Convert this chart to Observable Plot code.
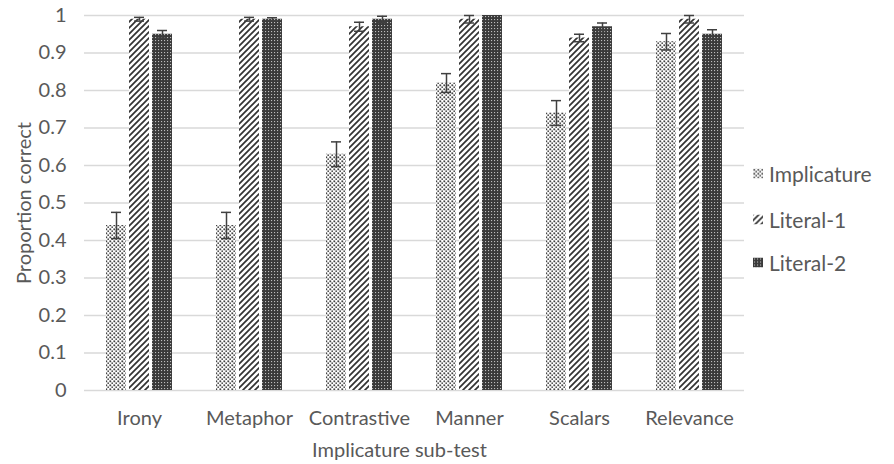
<!DOCTYPE html>
<html>
<head>
<meta charset="utf-8">
<script src="https://cdn.jsdelivr.net/npm/d3@7"></script>
<script src="https://cdn.jsdelivr.net/npm/@observablehq/plot@0.6"></script>
<style>
  html, body { margin: 0; padding: 0; background: #fff; }
  #wrap { position: relative; width: 894px; height: 464px; font-family: Lato, "Open Sans", sans-serif; color: #595959; }
  #legend { position: absolute; left: 753px; top: 0; font-size: 21px; }
  #legend .item { position: absolute; left: 0; display: flex; align-items: center; white-space: nowrap; transform: translateY(-50%); line-height: 1; }
  #legend svg { margin-right: 6px; }
</style>
</head>
<body>
<div id="wrap"></div>
<script>
const categories = ["Irony", "Metaphor", "Contrastive", "Manner", "Scalars", "Relevance"];
const seriesNames = ["Implicature", "Literal-1", "Literal-2"];
const implicature = [0.44, 0.44, 0.63, 0.82, 0.74, 0.93];
const implicatureErr = [0.035, 0.035, 0.033, 0.025, 0.033, 0.022];
const literal1 = [0.99, 0.99, 0.97, 0.99, 0.94, 0.99];
const literal1Err = [0.005, 0.005, 0.012, 0.01, 0.01, 0.01];
const literal2 = [0.95, 0.99, 0.99, 1.0, 0.97, 0.95];
const literal2Err = [0.01, 0.004, 0.008, 0.0, 0.01, 0.012];
const yTicks = [0, 0.1, 0.2, 0.3, 0.4, 0.5, 0.6, 0.7, 0.8, 0.9, 1];

const patternIds = ["pat-imp", "pat-lit1", "pat-lit2"];
const valuesBySeries = [implicature, literal1, literal2];
const errBySeries = [implicatureErr, literal1Err, literal2Err];

const rows = [];
categories.forEach((c, i) => {
  seriesNames.forEach((s, j) => {
    rows.push({category: c, series: s, value: valuesBySeries[j][i], err: errBySeries[j][i]});
  });
});
const errRows = rows.filter(d => d.err > 0);

const defs = `
<defs>
  <pattern id="pat-imp" width="4" height="4" patternUnits="userSpaceOnUse">
    <rect width="4" height="4" fill="#fff"/>
    <rect x="0.4" y="0.4" width="1.8" height="1.8" fill="#444"/>
    <rect x="2.4" y="2.4" width="1.8" height="1.8" fill="#555"/>
  </pattern>
  <pattern id="pat-lit1" width="6" height="6" patternUnits="userSpaceOnUse">
    <rect width="6" height="6" fill="#fff"/>
    <path d="M0,6 L6,0 M-1.5,1.5 L1.5,-1.5 M4.5,7.5 L7.5,4.5" stroke="#333" stroke-width="1.7"/>
  </pattern>
  <pattern id="pat-lit2" width="3" height="3" patternUnits="userSpaceOnUse">
    <rect width="3" height="3" fill="#3a3a3a"/>
    <rect x="1" y="1" width="1.1" height="1.1" fill="#bdbdbd"/>
  </pattern>
</defs>`;

const chart = Plot.plot({
  width: 894,
  height: 464,
  marginLeft: 83,
  marginRight: 149,
  marginTop: 15,
  marginBottom: 74,
  style: {fontFamily: "Lato, 'Open Sans', sans-serif", fontSize: "20px", color: "#595959", background: "#fff"},
  fx: {domain: categories, padding: 0, axis: "bottom", tickSize: 0, tickPadding: 20, label: "Implicature sub-test", labelAnchor: "center", labelOffset: 66, labelArrow: "none"},
  x: {domain: seriesNames, paddingInner: 0.15, paddingOuter: 0.9, axis: null},
  y: {domain: [0, 1], ticks: yTicks, tickFormat: d => String(d), tickSize: 0, tickPadding: 18, label: "Proportion correct", labelAnchor: "center", labelOffset: 68, labelArrow: "none"},
  color: {domain: seriesNames, range: patternIds.map(id => `url(#${id})`)},
  marks: [
    Plot.ruleY(yTicks, {stroke: "#d9d9d9", strokeWidth: 1.3}),
    Plot.barY(rows, {fx: "category", x: "series", y: "value", fill: "series"}),
    Plot.ruleX(errRows, {fx: "category", x: "series", y1: d => d.value - d.err, y2: d => d.value + d.err, stroke: "#404040", strokeWidth: 1.5}),
    Plot.tickY(errRows, {fx: "category", x: "series", y: d => d.value + d.err, stroke: "#404040", strokeWidth: 1.5, insetLeft: 5, insetRight: 5}),
    Plot.tickY(errRows, {fx: "category", x: "series", y: d => d.value - d.err, stroke: "#404040", strokeWidth: 1.5, insetLeft: 5, insetRight: 5})
  ]
});
chart.insertAdjacentHTML("afterbegin", defs);
chart.querySelectorAll("text").forEach(t => {
  t.setAttribute("fill", "#595959");
  if (/[→↑]/.test(t.textContent)) t.textContent = t.textContent.replace(/\s*[→↑]\s*/g, "");
  if (t.textContent === "Implicature sub-test") t.setAttribute("dx", "-15");
});

const wrap = document.getElementById("wrap");
wrap.appendChild(chart);

const legend = document.createElement("div");
legend.id = "legend";
const legendCenters = [173, 219, 262];
seriesNames.forEach((s, j) => {
  const item = document.createElement("div");
  item.className = "item";
  item.style.top = legendCenters[j] + "px";
  item.innerHTML = `<svg width="10" height="10"><rect width="10" height="10" fill="url(#${patternIds[j]})"/></svg><span>${s}</span>`;
  legend.appendChild(item);
});
wrap.appendChild(legend);
</script>
</body>
</html>
